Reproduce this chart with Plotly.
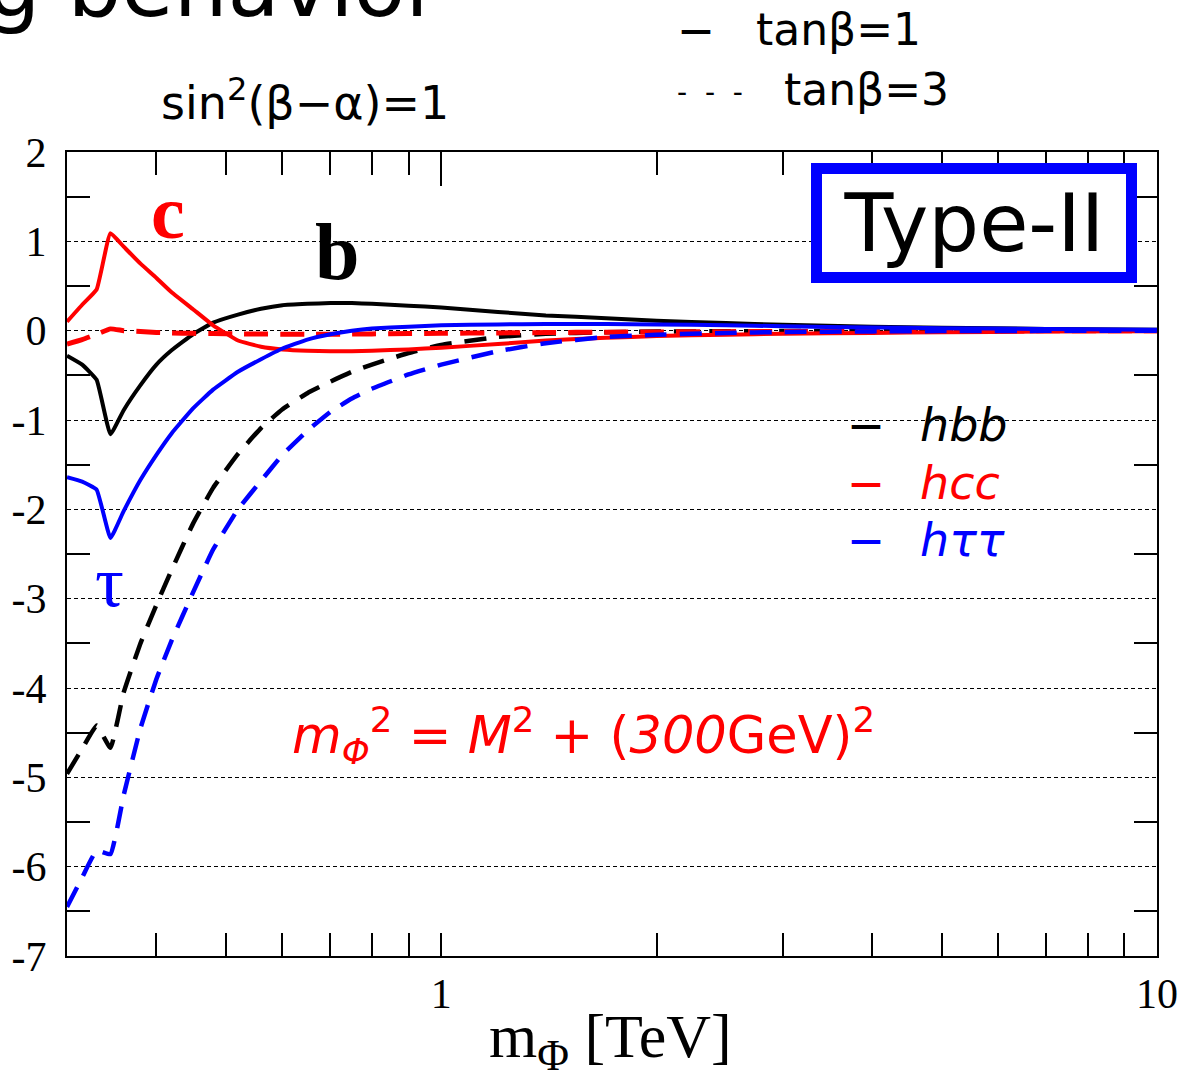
import math
import plotly.graph_objects as go

# ---------------- data ----------------
mass_tev = [0.3, 0.315, 0.33, 0.345, 0.36, 0.38, 0.40, 0.42, 0.45, 0.48, 0.52, 0.56,
            0.6, 0.65, 0.7, 0.75, 0.8, 0.9, 1.0, 1.2, 1.4, 1.7, 2.0, 2.5, 3.0, 4.0,
            5.0, 7.0, 10.0]

hbb_tanb1 = [-0.28, -0.38, -0.55, -1.16, -0.89, -0.61, -0.38, -0.22, -0.04, 0.09, 0.18,
             0.245, 0.285, 0.30, 0.31, 0.31, 0.30, 0.28, 0.26, 0.21, 0.17, 0.14, 0.11,
             0.085, 0.065, 0.045, 0.033, 0.02, 0.01]
hbb_tanb3 = [-4.96, -4.68, -4.42, -4.67, -4.05, -3.50, -3.07, -2.68, -2.16, -1.76, -1.38,
             -1.09, -0.88, -0.70, -0.57, -0.46, -0.38, -0.25, -0.16, -0.07, -0.035, -0.017,
             -0.01, -0.007, -0.005, -0.003, -0.002, -0.001, 0.0]
hcc_tanb1 = [0.10, 0.29, 0.46, 1.09, 0.94, 0.75, 0.59, 0.43, 0.24, 0.06, -0.11, -0.18,
             -0.21, -0.225, -0.23, -0.23, -0.225, -0.21, -0.19, -0.15, -0.11, -0.08,
             -0.06, -0.045, -0.035, -0.025, -0.018, -0.01, -0.006]
hcc_tanb3 = [-0.15, -0.10, -0.04, 0.02, 0.0, -0.01, -0.02, -0.025, -0.03, -0.033, -0.036,
             -0.038, -0.04, -0.04, -0.04, -0.038, -0.036, -0.033, -0.03, -0.025, -0.021,
             -0.017, -0.014, -0.011, -0.009, -0.006, -0.004, -0.002, -0.001]
htt_tanb1 = [-1.64, -1.69, -1.78, -2.32, -2.02, -1.67, -1.39, -1.15, -0.87, -0.66, -0.46,
             -0.32, -0.20, -0.10, -0.04, 0.0, 0.025, 0.045, 0.06, 0.07, 0.075, 0.075,
             0.07, 0.06, 0.05, 0.035, 0.028, 0.018, 0.01]
htt_tanb3 = [-6.45, -6.12, -5.82, -5.86, -5.20, -4.45, -3.90, -3.47, -2.93, -2.45, -2.00,
             -1.68, -1.39, -1.12, -0.91, -0.76, -0.65, -0.49, -0.38, -0.23, -0.14, -0.07,
             -0.045, -0.025, -0.015, -0.008, -0.005, -0.002, 0.0]

x_minor_ticks = [0.4, 0.5, 0.6, 0.7, 0.8, 0.9, 2, 3, 4, 5, 6, 7, 8, 9]
x_label_ticks = [1, 10]
y_label_ticks = [-7, -6, -5, -4, -3, -2, -1, 0, 1, 2]
y_half_ticks = [-6.5, -5.5, -4.5, -3.5, -2.5, -1.5, -0.5, 0.5, 1.5]

# ---------------- figure ----------------
W, H = 1190, 1080
L, R, T, B = 67, 30, 152, 124
PW, PH = W - L - R, H - T - B


def px(xp):
    return (xp - L) / PW


def py(yp):
    return (H - B - yp) / PH


RED, BLUE, BLACK = "#ff0000", "#0000ff", "#000000"
SANS = "DejaVu Sans"
SERIF = "Liberation Serif"

fig = go.Figure()

series = [
    (hbb_tanb1, BLACK, "solid", 4),
    (hbb_tanb3, BLACK, "22px,13px", 4.5),
    (hcc_tanb3, RED, "24px,12px", 5),
    (hcc_tanb1, RED, "solid", 4),
    (htt_tanb3, BLUE, "22px,13px", 4.5),
    (htt_tanb1, BLUE, "solid", 4),
]
for ys, col, dash, wid in series:
    fig.add_trace(go.Scatter(x=mass_tev, y=ys, mode="lines",
                             line=dict(color=col, width=wid, dash=dash,
                                       shape="spline", smoothing=0.35),
                             showlegend=False, hoverinfo="skip"))

# empty traces so the overlay tick axes are drawn
fig.add_trace(go.Scatter(x=[], y=[], xaxis="x2", yaxis="y2", showlegend=False))
fig.add_trace(go.Scatter(x=[], y=[], xaxis="x3", yaxis="y3", showlegend=False))

xr = [math.log10(0.3), 1]
all_x_ticks = sorted(x_minor_ticks + x_label_ticks)
tick_common = dict(tickcolor=BLACK, tickwidth=1.6)

fig.update_layout(
    width=W, height=H,
    margin=dict(l=L, r=R, t=T, b=B),
    paper_bgcolor="white", plot_bgcolor="white",
    xaxis=dict(type="log", range=xr, tickmode="array", tickvals=all_x_ticks,
               ticktext=[str(v) if v in x_label_ticks else "" for v in all_x_ticks],
               ticks="inside", ticklen=23, showgrid=False, zeroline=False,
               showline=True, linecolor=BLACK, linewidth=2, mirror=True,
               tickfont=dict(family=SERIF, size=42, color=BLACK), **tick_common),
    xaxis2=dict(type="log", range=xr, overlaying="x", side="top", anchor="y",
                tickmode="array", tickvals=x_minor_ticks, ticks="inside", ticklen=23,
                showticklabels=False, showgrid=False, zeroline=False, showline=False,
                **tick_common),
    xaxis3=dict(type="log", range=xr, overlaying="x", side="top", anchor="y",
                tickmode="array", tickvals=[1], ticks="inside", ticklen=34,
                showticklabels=False, showgrid=False, zeroline=False, showline=False,
                **tick_common),
    yaxis=dict(range=[-7, 2], tickmode="array", tickvals=y_label_ticks,
               ticktext=[str(v) for v in y_label_ticks], ticks="",
               showgrid=True, gridcolor=BLACK, gridwidth=1.3, griddash="4px,3px",
               zeroline=False, showline=True, linecolor=BLACK, linewidth=2, mirror=True,
               ticklabelstandoff=10,
               tickfont=dict(family=SERIF, size=42, color=BLACK)),
    yaxis2=dict(range=[-7, 2], overlaying="y", side="right", anchor="x",
                tickmode="array", tickvals=y_half_ticks, ticks="inside", ticklen=23,
                showticklabels=False, showgrid=False, zeroline=False, showline=False,
                **tick_common),
    yaxis3=dict(range=[-7, 2], overlaying="y", side="left", anchor="x",
                tickmode="array", tickvals=y_half_ticks, ticks="inside", ticklen=23,
                showticklabels=False, showgrid=False, zeroline=False, showline=False,
                **tick_common),
)


def note(text, x, y, size, color=BLACK, family=SANS, xanchor="center", **kw):
    fig.add_annotation(text=text, x=px(x), y=py(y), xref="paper", yref="paper",
                       showarrow=False, xanchor=xanchor, yanchor="middle",
                       font=dict(family=family, size=size, color=color), **kw)


# cropped slide title
note("Decoupling behavior", 444, -14, 85, xanchor="right")
# header texts
note("sin<sup>2</sup>(β−α)=1", 306, 100, 46)
note("<b>—</b>", 698, 30, 32)
note("tanβ=1", 756, 30, 44, xanchor="left")
note("-\u00a0\u00a0-\u00a0\u00a0-", 712, 92, 28)
note("tanβ=3", 784, 90, 44, xanchor="left")
# Type-II box
note("Type-II", 976, 223, 80, bordercolor=BLUE, borderwidth=11, borderpad=4,
     bgcolor="white", width=296, height=90)
# curve labels
note("<b>c</b>", 168, 212, 76, RED, SERIF)
note("<b>b</b>", 338, 252, 80, BLACK, SERIF)
note("τ", 110, 582, 72, BLUE, SERIF)
# in-plot legend
for yy, txt, col in [(425, "hbb", BLACK), (483, "hcc", RED), (540, "hττ", BLUE)]:
    note("<b>—</b>", 868, yy, 32, col)
    note("<i>%s</i>" % txt, 920, yy, 46, col, xanchor="left")
# formula
note("<i>m<sub>Φ</sub></i><sup>2</sup> = <i>M</i><sup>2</sup> + (<i>300</i>GeV)<sup>2</sup>",
     585, 735, 51, RED)
# x-axis title
note("m<sub>Φ</sub> [TeV]", 612, 1040, 62, BLACK, SERIF)

fig.write_html("out.html")
